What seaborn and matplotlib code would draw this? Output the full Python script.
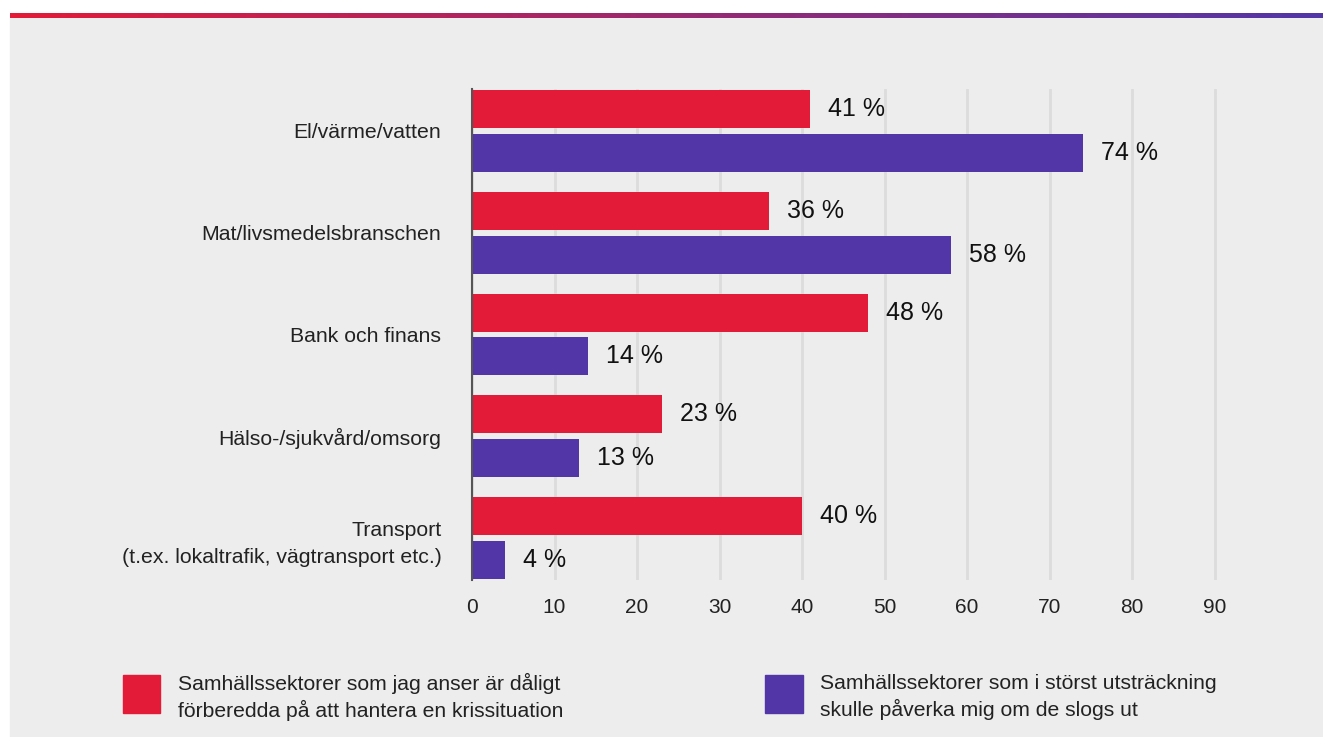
import pandas as pd
import matplotlib.pyplot as plt
import matplotlib.patches as mpatches
import numpy as np
import seaborn as sns
from matplotlib.colors import LinearSegmentedColormap

categories = ["El/värme/vatten", "Mat/livsmedelsbranschen", "Bank och finans",
              "Hälso-/sjukvård/omsorg", "Transport\n(t.ex. lokaltrafik, vägtransport etc.)"]
prepared_badly = [41, 36, 48, 23, 40]
most_affected = [74, 58, 14, 13, 4]
series_labels = ["Samhällssektorer som jag anser är dåligt\nförberedda på att hantera en krissituation",
                 "Samhällssektorer som i störst utsträckning\nskulle påverka mig om de slogs ut"]
xticks = [0, 10, 20, 30, 40, 50, 60, 70, 80, 90]

RED = "#e31a38"
PURPLE = "#5236a8"
BG = "#ededed"

df = pd.DataFrame({
    "Sektor": categories * 2,
    "Andel": prepared_badly + most_affected,
    "Serie": [series_labels[0]] * 5 + [series_labels[1]] * 5,
})

sns.set_style("white")
plt.rcParams["font.family"] = ["Liberation Sans", "DejaVu Sans"]

W, H = 1323, 737
fig = plt.figure(figsize=(W / 100, H / 100), dpi=100)
fig.patch.set_facecolor("white")

# grey panel and gradient line on top
fig.patches.append(mpatches.Rectangle((10 / W, 0), 1 - 10 / W, 1 - 18 / H,
                                      transform=fig.transFigure, color=BG, zorder=-10))
grad = np.linspace(0, 1, 256).reshape(1, -1)
gax = fig.add_axes([10 / W, 1 - 18 / H, 1 - 10 / W, 5 / H])
gax.imshow(grad, aspect="auto", cmap=LinearSegmentedColormap.from_list("g", [RED, PURPLE]))
gax.axis("off")

ax = fig.add_axes([472 / W, 1 - 580 / H, (1217 - 472) / W, (580 - 89) / H])
ax.set_facecolor(BG)
sns.barplot(data=df, y="Sektor", x="Andel", hue="Serie", orient="h",
            palette=[RED, PURPLE], width=0.863, gap=0.135, saturation=1,
            linewidth=0, legend=False, ax=ax, zorder=3)

ax.set_xlim(0, 90.3)
ax.set_ylim(4.41, -0.41)
ax.set_xticks(xticks)
ax.set_xticklabels([str(t) for t in xticks], fontsize=15, color="#222222")
ax.tick_params(axis="y", labelsize=15.3, labelcolor="#222222", pad=22, length=0)
ax.tick_params(axis="x", pad=13, length=0)
for lbl in ax.get_yticklabels():
    lbl.set_linespacing(1.5)
ax.set_xlabel("")
ax.set_ylabel("")
ax.grid(axis="x", color="#dcdcdc", linewidth=2, zorder=0)
ax.grid(axis="y", visible=False)
for s in ["top", "right", "bottom"]:
    ax.spines[s].set_visible(False)
ax.spines["left"].set_color("#555555")
ax.spines["left"].set_linewidth(1.5)
ax.spines["left"].set_zorder(5)

for cont in ax.containers:
    ax.bar_label(cont, labels=[f"{int(v)} %" for v in cont.datavalues],
                 padding=13, fontsize=18, color="#111111")

# legend
for (x0, x1, txt_x), col, lab in zip([(123, 160, 178), (765, 803, 820)],
                                     [RED, PURPLE], series_labels):
    fig.patches.append(mpatches.Rectangle((x0 / W, 1 - 713 / H), (x1 - x0) / W, 38 / H,
                                          transform=fig.transFigure, color=col))
    fig.text(txt_x / W, 1 - 697 / H, lab, fontsize=15.2, color="#222222",
             va="center", ha="left", linespacing=1.38)

fig.savefig("out.png", dpi=100, facecolor=fig.get_facecolor())
